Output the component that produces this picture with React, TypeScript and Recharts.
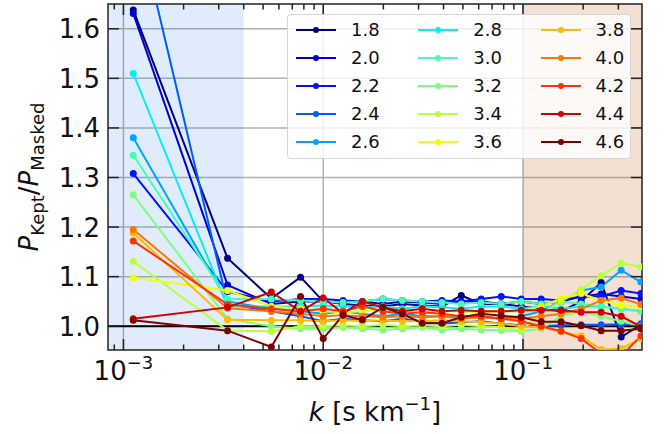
import React from 'react';
import { LineChart, Line, XAxis, YAxis, CartesianGrid, ReferenceArea, ReferenceLine, Label } from 'recharts';

const K_VALUES = [
  0.00112, 0.00332, 0.0055, 0.0077, 0.01, 0.01256, 0.0157, 0.0199, 0.0249, 0.0313, 0.0393,
  0.0491, 0.0618, 0.0778, 0.098, 0.1233, 0.155, 0.1954, 0.246, 0.31, 0.389,
];

const SERIES_LABELS = ['1.8', '2.0', '2.2', '2.4', '2.6', '2.8', '3.0', '3.2', '3.4', '3.6', '3.8', '4.0', '4.2', '4.4', '4.6'];

const SERIES_COLORS = [
  '#000080', '#0000d2', '#0012ff', '#005bff', '#00a4ff', '#06edf1', '#41ffb6', '#7bff7b',
  '#b6ff41', '#f0ff06', '#ffb900', '#ff7500', '#ff3200', '#d20000', '#800000',
];

const s18 = [1.638, 1.137, 1.056, 1.099, 1.05, 1.045, 1.042, 1.04, 1.045, 1.042, 1.04, 1.062, 1.045, 1.045, 1.04, 1.035, 1.03, 1.05, 1.088, 0.978, 1.003];
const s20 = [1.631, 1.083, 1.045, 1.05, 1.05, 1.048, 1.05, 1.045, 1.05, 1.048, 1.045, 1.05, 1.05, 1.045, 1.05, 1.045, 1.05, 1.06, 1.065, 1.06, 1.055];
const s22 = [1.308, 1.07, 1.05, 1.055, 1.055, 1.052, 1.05, 1.055, 1.052, 1.05, 1.052, 1.05, 1.055, 1.06, 1.055, 1.055, 1.052, 1.06, 1.06, 1.072, 1.066];
const s24 = [1.85, 1.045, 1.03, 1.02, 1.01, 1.015, 1.012, 1.01, 1.015, 1.01, 1.005, 1.008, 1.01, 1.005, 1.002, 1.0, 1.002, 1.003, 1.003, 1.004, 1.005];
const s26 = [1.38, 1.05, 1.035, 1.03, 1.025, 1.03, 1.025, 1.02, 1.025, 1.02, 1.02, 1.018, 1.02, 1.015, 1.02, 1.03, 1.05, 1.072, 1.079, 1.113, 1.089];
const s28 = [1.51, 1.04, 1.04, 1.04, 1.042, 1.04, 1.038, 1.04, 1.035, 1.04, 1.038, 1.035, 1.04, 1.04, 1.035, 1.04, 1.035, 1.04, 1.04, 1.035, 1.03];
const s30 = [1.345, 1.055, 1.055, 1.052, 1.05, 1.048, 1.05, 1.055, 1.052, 1.05, 1.048, 1.045, 1.048, 1.045, 1.05, 1.045, 1.05, 1.045, 1.04, 1.035, 1.03];
const s32 = [1.265, 1.015, 1.0, 0.995, 0.995, 0.998, 0.995, 0.993, 0.995, 0.998, 0.993, 0.995, 0.993, 0.992, 0.99, 0.995, 1.02, 1.03, 1.02, 1.01, 1.0];
const s34 = [1.131, 0.991, 0.99, 1.0, 1.0, 1.002, 1.0, 1.003, 1.0, 1.002, 1.0, 1.003, 1.0, 0.998, 0.992, 1.025, 1.05, 1.074, 1.102, 1.127, 1.12];
const s36 = [1.098, 1.072, 1.04, 1.035, 1.03, 1.028, 1.03, 1.032, 1.03, 1.028, 1.03, 1.03, 1.028, 1.03, 1.03, 1.04, 1.056, 1.066, 1.052, 1.042, 1.04];
const s38 = [1.188, 1.013, 1.012, 1.012, 1.01, 1.012, 1.01, 1.012, 1.01, 1.01, 1.012, 1.01, 1.008, 1.005, 1.0, 0.998, 0.99, 0.98, 0.953, 0.955, 0.975];
const s40 = [1.195, 1.036, 1.03, 1.025, 1.02, 1.022, 1.02, 1.018, 1.02, 1.018, 1.02, 1.015, 1.018, 1.015, 1.015, 1.02, 1.025, 1.035, 1.052, 1.057, 1.044];
const s42 = [1.172, 1.044, 1.035, 1.03, 1.035, 1.03, 1.04, 1.03, 1.025, 1.028, 1.025, 1.02, 1.02, 1.015, 1.01, 1.0, 0.99, 0.975, 0.945, 0.94, 0.98];
const s44 = [1.015, 1.038, 1.069, 1.03, 1.057, 1.026, 1.05, 1.038, 1.03, 1.035, 1.03, 1.032, 1.03, 1.03, 1.032, 1.032, 1.032, 1.028, 1.028, 1.02, 0.999];
const s46 = [1.012, 0.991, 0.958, 1.06, 0.975, 1.022, 1.013, 1.038, 1.025, 1.006, 1.006, 1.018, 1.025, 1.021, 1.018, 1.009, 1.009, 1.001, 0.991, 0.991, 0.995];

const SERIES_VALUES = [s18, s20, s22, s24, s26, s28, s30, s32, s34, s36, s38, s40, s42, s44, s46];

const X_MAJOR = [0.001, 0.01, 0.1];
const X_MINOR = [0.0009, 0.002, 0.003, 0.004, 0.005, 0.006, 0.007, 0.008, 0.009,
  0.02, 0.03, 0.04, 0.05, 0.06, 0.07, 0.08, 0.09, 0.2, 0.3];
const X_EXP = ['−3', '−2', '−1'];
const Y_TICKS = [1.0, 1.1, 1.2, 1.3, 1.4, 1.5, 1.6];

const X_DOMAIN = [0.000837, 0.394];
const Y_DOMAIN = [0.952, 1.65];
const BLUE_BAND = [X_DOMAIN[0], 0.004];
const ORANGE_BAND = [0.1, X_DOMAIN[1]];

const W = 665;
const H = 434;
const PLOT_TOP = 4;
const PLOT_BOTTOM = 350;
const PLOT_LEFT = 108;
const PLOT_RIGHT = 642;
const FONT = '"DejaVu Sans", sans-serif';

const data = K_VALUES.map((k, i) => {
  const row: Record<string, number> = { k };
  SERIES_LABELS.forEach((lab, j) => {
    row['s' + lab] = SERIES_VALUES[j][i];
  });
  return row;
});

function XTick(props: any) {
  const { x, payload } = props;
  const v = payload.value;
  const mi = X_MAJOR.findIndex((m) => Math.abs(m - v) / m < 1e-6);
  const len = mi >= 0 ? 11 : 5.5;
  return (
    <g>
      <line x1={x} x2={x} y1={PLOT_BOTTOM} y2={PLOT_BOTTOM - len} stroke="#222" strokeWidth={1.5} />
      <line x1={x} x2={x} y1={PLOT_TOP} y2={PLOT_TOP + len} stroke="#222" strokeWidth={1.5} />
      {mi >= 0 && (
        <text x={x} y={PLOT_BOTTOM + 30} textAnchor="middle" fontSize={26} fontFamily={FONT} fill="#111">
          10<tspan fontSize={18} dy={-11}>{X_EXP[mi]}</tspan>
        </text>
      )}
    </g>
  );
}

function YTick(props: any) {
  const { y, payload } = props;
  return (
    <g>
      <line x1={PLOT_LEFT} x2={PLOT_LEFT + 11} y1={y} y2={y} stroke="#222" strokeWidth={1.5} />
      <line x1={PLOT_RIGHT} x2={PLOT_RIGHT - 11} y1={y} y2={y} stroke="#222" strokeWidth={1.5} />
      <text x={PLOT_LEFT - 8} y={y + 9.5} textAnchor="end" fontSize={26} fontFamily={FONT} fill="#111">
        {Number(payload.value).toFixed(1)}
      </text>
    </g>
  );
}

function XLabel() {
  return (
    <text x={(PLOT_LEFT + PLOT_RIGHT) / 2} y={421} textAnchor="middle" fontSize={26} fontFamily={FONT} fill="#111">
      <tspan fontStyle="italic">k</tspan> [s km<tspan fontSize={18} dy={-11}>−1</tspan><tspan dy={11}>]</tspan>
    </text>
  );
}

function YLabel() {
  const cx = 38;
  const cy = (PLOT_TOP + PLOT_BOTTOM) / 2;
  return (
    <text x={cx} y={cy} transform={`rotate(-90 ${cx} ${cy})`} textAnchor="middle" fontSize={26} fontFamily={FONT} fill="#111">
      <tspan fontStyle="italic">P</tspan>
      <tspan fontSize={18} dy={6}>Kept</tspan>
      <tspan dy={-6}>/</tspan>
      <tspan fontStyle="italic">P</tspan>
      <tspan fontSize={18} dy={6}>Masked</tspan>
    </text>
  );
}

function LegendBox() {
  return (
    <div
      style={{
        position: 'absolute',
        left: 287,
        top: 14,
        width: 344,
        height: 145,
        boxSizing: 'border-box',
        background: 'rgba(255,255,255,0.8)',
        border: '1px solid #d6d6d6',
        borderRadius: 4,
      }}
    >
      {SERIES_LABELS.map((lab, i) => {
        const col = Math.floor(i / 5);
        const row = i % 5;
        return (
          <div
            key={lab}
            style={{
              position: 'absolute',
              left: 7 + col * 122.3,
              top: 2 + row * 27.9,
              height: 26,
              display: 'flex',
              alignItems: 'center',
            }}
          >
            <svg width={42} height={10} style={{ display: 'block' }}>
              <line x1={1} x2={41} y1={5} y2={5} stroke={SERIES_COLORS[i]} strokeWidth={2} />
              <circle cx={21} cy={5} r={3} fill={SERIES_COLORS[i]} />
            </svg>
            <span style={{ marginLeft: 14, fontSize: 18, fontFamily: FONT, color: '#111', lineHeight: '26px' }}>{lab}</span>
          </div>
        );
      })}
    </div>
  );
}

export default function App() {
  return (
    <div style={{ position: 'absolute', left: 0, top: 0, width: W, height: H, background: '#fff' }}>
      <LineChart width={W} height={H} data={data} margin={{ top: PLOT_TOP, right: W - PLOT_RIGHT, bottom: 0, left: 0 }}>
        <ReferenceArea x1={BLUE_BAND[0]} x2={BLUE_BAND[1]} y1={Y_DOMAIN[0]} y2={Y_DOMAIN[1]} fill="#2f7fee" fillOpacity={0.15} stroke="none" />
        <ReferenceArea x1={ORANGE_BAND[0]} x2={ORANGE_BAND[1]} y1={Y_DOMAIN[0]} y2={Y_DOMAIN[1]} fill="#c8641e" fillOpacity={0.2} stroke="none" />
        <CartesianGrid stroke="#b0b0b0" strokeWidth={1.5} verticalValues={X_MAJOR} horizontalValues={Y_TICKS} />
        <XAxis
          dataKey="k"
          type="number"
          scale="log"
          domain={X_DOMAIN}
          allowDataOverflow
          ticks={[...X_MAJOR, ...X_MINOR]}
          interval={0}
          height={H - PLOT_BOTTOM}
          tickSize={0}
          tickMargin={0}
          axisLine={false}
          tickLine={false}
          tick={(p: any) => <XTick {...p} />}
        >
          <Label content={() => <XLabel />} />
        </XAxis>
        <YAxis
          type="number"
          domain={Y_DOMAIN}
          allowDataOverflow
          ticks={Y_TICKS}
          interval={0}
          width={PLOT_LEFT}
          tickSize={0}
          tickMargin={0}
          axisLine={false}
          tickLine={false}
          tick={(p: any) => <YTick {...p} />}
        >
          <Label content={() => <YLabel />} />
        </YAxis>
        <ReferenceLine y={1.0} stroke="#000" strokeWidth={2} />
        {SERIES_LABELS.map((lab, i) => (
          <Line
            key={lab}
            type="linear"
            dataKey={'s' + lab}
            name={lab}
            stroke={SERIES_COLORS[i]}
            strokeWidth={2}
            dot={{ r: 3.5, fill: SERIES_COLORS[i], stroke: SERIES_COLORS[i], strokeWidth: 0 }}
            activeDot={false}
            isAnimationActive={false}
          />
        ))}
        <ReferenceArea x1={X_DOMAIN[0]} x2={X_DOMAIN[1]} y1={Y_DOMAIN[0]} y2={Y_DOMAIN[1]} fill="none" stroke="#222" strokeWidth={1.5} />
      </LineChart>
      <LegendBox />
    </div>
  );
}
